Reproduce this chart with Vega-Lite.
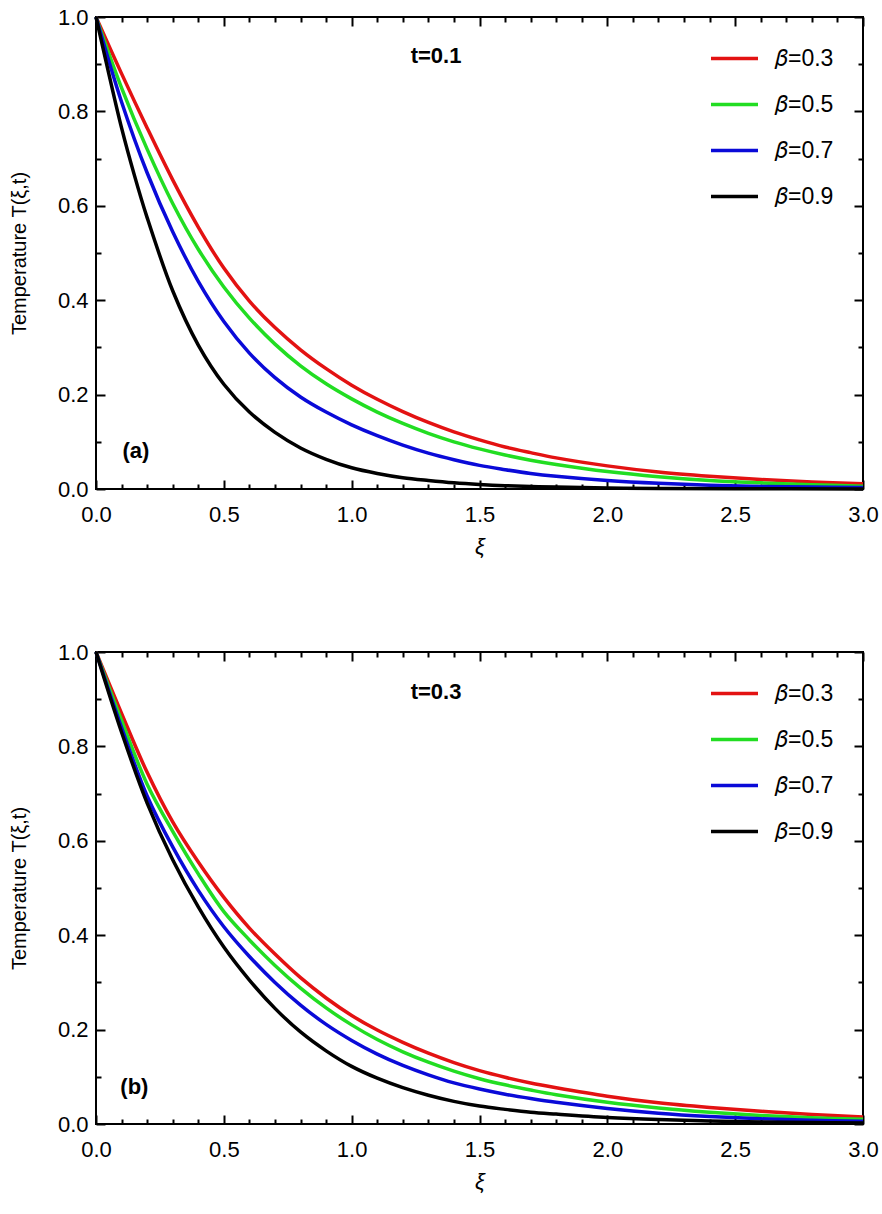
{
  "$schema": "https://vega.github.io/schema/vega-lite/v6.json",
  "padding": {"left": 8, "top": 5, "right": 5, "bottom": 5},
  "autosize": {"type": "pad"},
  "background": "white",
  "config": {
    "font": "Liberation Sans",
    "view": {"stroke": "black", "strokeWidth": 2},
    "concat": {"spacing": 82},
    "axis": {
      "labelFont": "Liberation Sans", "labelFontSize": 22, "labelColor": "black",
      "titleFont": "Liberation Sans", "titleFontWeight": "normal", "titleColor": "black",
      "tickColor": "black", "tickWidth": 2, "grid": false, "domain": false,
      "labelFlush": false, "labelOverlap": false
    },
    "legend": {"labelFont": "Liberation Sans", "labelFontSize": 23, "labelColor": "black"}
  },
  "resolve": {"legend": {"color": "independent"}},
  "datasets": {
    "a": [
      {"beta":"0.3","xi":0,"T":1},{"beta":"0.3","xi":0.1,"T":0.88},{"beta":"0.3","xi":0.2,"T":0.765},{"beta":"0.3","xi":0.3,"T":0.655},{"beta":"0.3","xi":0.4,"T":0.555},{"beta":"0.3","xi":0.5,"T":0.468},{"beta":"0.3","xi":0.6,"T":0.398},{"beta":"0.3","xi":0.7,"T":0.342},{"beta":"0.3","xi":0.8,"T":0.295},{"beta":"0.3","xi":0.9,"T":0.255},{"beta":"0.3","xi":1.0,"T":0.22},{"beta":"0.3","xi":1.1,"T":0.19},{"beta":"0.3","xi":1.2,"T":0.164},{"beta":"0.3","xi":1.3,"T":0.141},{"beta":"0.3","xi":1.4,"T":0.121},{"beta":"0.3","xi":1.5,"T":0.104},{"beta":"0.3","xi":1.6,"T":0.089},{"beta":"0.3","xi":1.7,"T":0.077},{"beta":"0.3","xi":1.8,"T":0.066},{"beta":"0.3","xi":2.0,"T":0.049},{"beta":"0.3","xi":2.2,"T":0.036},{"beta":"0.3","xi":2.4,"T":0.027},{"beta":"0.3","xi":2.6,"T":0.02},{"beta":"0.3","xi":2.8,"T":0.015},{"beta":"0.3","xi":3.0,"T":0.011},
      {"beta":"0.5","xi":0,"T":1},{"beta":"0.5","xi":0.1,"T":0.85},{"beta":"0.5","xi":0.2,"T":0.72},{"beta":"0.5","xi":0.3,"T":0.605},{"beta":"0.5","xi":0.4,"T":0.508},{"beta":"0.5","xi":0.5,"T":0.428},{"beta":"0.5","xi":0.6,"T":0.362},{"beta":"0.5","xi":0.7,"T":0.307},{"beta":"0.5","xi":0.8,"T":0.261},{"beta":"0.5","xi":0.9,"T":0.223},{"beta":"0.5","xi":1.0,"T":0.191},{"beta":"0.5","xi":1.1,"T":0.163},{"beta":"0.5","xi":1.2,"T":0.139},{"beta":"0.5","xi":1.3,"T":0.118},{"beta":"0.5","xi":1.4,"T":0.1},{"beta":"0.5","xi":1.5,"T":0.085},{"beta":"0.5","xi":1.6,"T":0.072},{"beta":"0.5","xi":1.7,"T":0.061},{"beta":"0.5","xi":1.8,"T":0.052},{"beta":"0.5","xi":2.0,"T":0.037},{"beta":"0.5","xi":2.2,"T":0.026},{"beta":"0.5","xi":2.4,"T":0.018},{"beta":"0.5","xi":2.6,"T":0.013},{"beta":"0.5","xi":2.8,"T":0.009},{"beta":"0.5","xi":3.0,"T":0.006},
      {"beta":"0.7","xi":0,"T":1},{"beta":"0.7","xi":0.1,"T":0.82},{"beta":"0.7","xi":0.2,"T":0.67},{"beta":"0.7","xi":0.3,"T":0.545},{"beta":"0.7","xi":0.4,"T":0.44},{"beta":"0.7","xi":0.5,"T":0.355},{"beta":"0.7","xi":0.6,"T":0.288},{"beta":"0.7","xi":0.7,"T":0.236},{"beta":"0.7","xi":0.8,"T":0.195},{"beta":"0.7","xi":0.9,"T":0.163},{"beta":"0.7","xi":1.0,"T":0.136},{"beta":"0.7","xi":1.1,"T":0.113},{"beta":"0.7","xi":1.2,"T":0.093},{"beta":"0.7","xi":1.3,"T":0.076},{"beta":"0.7","xi":1.4,"T":0.062},{"beta":"0.7","xi":1.5,"T":0.05},{"beta":"0.7","xi":1.6,"T":0.041},{"beta":"0.7","xi":1.7,"T":0.033},{"beta":"0.7","xi":1.8,"T":0.027},{"beta":"0.7","xi":2.0,"T":0.018},{"beta":"0.7","xi":2.2,"T":0.012},{"beta":"0.7","xi":2.4,"T":0.008},{"beta":"0.7","xi":2.6,"T":0.0055},{"beta":"0.7","xi":2.8,"T":0.004},{"beta":"0.7","xi":3.0,"T":0.003},
      {"beta":"0.9","xi":0,"T":1},{"beta":"0.9","xi":0.05,"T":0.88},{"beta":"0.9","xi":0.1,"T":0.765},{"beta":"0.9","xi":0.15,"T":0.665},{"beta":"0.9","xi":0.2,"T":0.575},{"beta":"0.9","xi":0.3,"T":0.42},{"beta":"0.9","xi":0.4,"T":0.305},{"beta":"0.9","xi":0.5,"T":0.222},{"beta":"0.9","xi":0.6,"T":0.163},{"beta":"0.9","xi":0.7,"T":0.12},{"beta":"0.9","xi":0.8,"T":0.087},{"beta":"0.9","xi":0.9,"T":0.063},{"beta":"0.9","xi":1.0,"T":0.045},{"beta":"0.9","xi":1.1,"T":0.033},{"beta":"0.9","xi":1.2,"T":0.024},{"beta":"0.9","xi":1.3,"T":0.018},{"beta":"0.9","xi":1.4,"T":0.013},{"beta":"0.9","xi":1.5,"T":0.0095},{"beta":"0.9","xi":1.6,"T":0.007},{"beta":"0.9","xi":1.8,"T":0.004},{"beta":"0.9","xi":2.0,"T":0.0022},{"beta":"0.9","xi":2.2,"T":0.0013},{"beta":"0.9","xi":2.5,"T":0.0006},{"beta":"0.9","xi":3.0,"T":0.0002}
    ],
    "b": [
      {"beta":"0.3","xi":0,"T":1},{"beta":"0.3","xi":0.1,"T":0.87},{"beta":"0.3","xi":0.2,"T":0.745},{"beta":"0.3","xi":0.3,"T":0.64},{"beta":"0.3","xi":0.4,"T":0.555},{"beta":"0.3","xi":0.5,"T":0.48},{"beta":"0.3","xi":0.6,"T":0.415},{"beta":"0.3","xi":0.7,"T":0.36},{"beta":"0.3","xi":0.8,"T":0.31},{"beta":"0.3","xi":0.9,"T":0.267},{"beta":"0.3","xi":1.0,"T":0.23},{"beta":"0.3","xi":1.1,"T":0.199},{"beta":"0.3","xi":1.2,"T":0.173},{"beta":"0.3","xi":1.3,"T":0.15},{"beta":"0.3","xi":1.4,"T":0.13},{"beta":"0.3","xi":1.5,"T":0.113},{"beta":"0.3","xi":1.6,"T":0.099},{"beta":"0.3","xi":1.7,"T":0.087},{"beta":"0.3","xi":1.8,"T":0.077},{"beta":"0.3","xi":2.0,"T":0.059},{"beta":"0.3","xi":2.2,"T":0.045},{"beta":"0.3","xi":2.4,"T":0.035},{"beta":"0.3","xi":2.6,"T":0.027},{"beta":"0.3","xi":2.8,"T":0.02},{"beta":"0.3","xi":3.0,"T":0.015},
      {"beta":"0.5","xi":0,"T":1},{"beta":"0.5","xi":0.1,"T":0.855},{"beta":"0.5","xi":0.2,"T":0.72},{"beta":"0.5","xi":0.3,"T":0.62},{"beta":"0.5","xi":0.4,"T":0.53},{"beta":"0.5","xi":0.5,"T":0.45},{"beta":"0.5","xi":0.6,"T":0.39},{"beta":"0.5","xi":0.7,"T":0.336},{"beta":"0.5","xi":0.8,"T":0.288},{"beta":"0.5","xi":0.9,"T":0.246},{"beta":"0.5","xi":1.0,"T":0.21},{"beta":"0.5","xi":1.1,"T":0.179},{"beta":"0.5","xi":1.2,"T":0.153},{"beta":"0.5","xi":1.3,"T":0.131},{"beta":"0.5","xi":1.4,"T":0.112},{"beta":"0.5","xi":1.5,"T":0.096},{"beta":"0.5","xi":1.6,"T":0.083},{"beta":"0.5","xi":1.7,"T":0.072},{"beta":"0.5","xi":1.8,"T":0.062},{"beta":"0.5","xi":2.0,"T":0.046},{"beta":"0.5","xi":2.2,"T":0.034},{"beta":"0.5","xi":2.4,"T":0.025},{"beta":"0.5","xi":2.6,"T":0.018},{"beta":"0.5","xi":2.8,"T":0.013},{"beta":"0.5","xi":3.0,"T":0.01},
      {"beta":"0.7","xi":0,"T":1},{"beta":"0.7","xi":0.1,"T":0.84},{"beta":"0.7","xi":0.2,"T":0.695},{"beta":"0.7","xi":0.3,"T":0.587},{"beta":"0.7","xi":0.4,"T":0.495},{"beta":"0.7","xi":0.5,"T":0.418},{"beta":"0.7","xi":0.6,"T":0.355},{"beta":"0.7","xi":0.7,"T":0.3},{"beta":"0.7","xi":0.8,"T":0.252},{"beta":"0.7","xi":0.9,"T":0.211},{"beta":"0.7","xi":1.0,"T":0.177},{"beta":"0.7","xi":1.1,"T":0.148},{"beta":"0.7","xi":1.2,"T":0.124},{"beta":"0.7","xi":1.3,"T":0.104},{"beta":"0.7","xi":1.4,"T":0.087},{"beta":"0.7","xi":1.5,"T":0.074},{"beta":"0.7","xi":1.6,"T":0.063},{"beta":"0.7","xi":1.7,"T":0.054},{"beta":"0.7","xi":1.8,"T":0.046},{"beta":"0.7","xi":2.0,"T":0.033},{"beta":"0.7","xi":2.2,"T":0.023},{"beta":"0.7","xi":2.4,"T":0.016},{"beta":"0.7","xi":2.6,"T":0.011},{"beta":"0.7","xi":2.8,"T":0.008},{"beta":"0.7","xi":3.0,"T":0.006},
      {"beta":"0.9","xi":0,"T":1},{"beta":"0.9","xi":0.1,"T":0.83},{"beta":"0.9","xi":0.2,"T":0.68},{"beta":"0.9","xi":0.3,"T":0.56},{"beta":"0.9","xi":0.4,"T":0.46},{"beta":"0.9","xi":0.5,"T":0.375},{"beta":"0.9","xi":0.6,"T":0.305},{"beta":"0.9","xi":0.7,"T":0.245},{"beta":"0.9","xi":0.8,"T":0.195},{"beta":"0.9","xi":0.9,"T":0.155},{"beta":"0.9","xi":1.0,"T":0.122},{"beta":"0.9","xi":1.1,"T":0.097},{"beta":"0.9","xi":1.2,"T":0.077},{"beta":"0.9","xi":1.3,"T":0.061},{"beta":"0.9","xi":1.4,"T":0.048},{"beta":"0.9","xi":1.5,"T":0.038},{"beta":"0.9","xi":1.6,"T":0.031},{"beta":"0.9","xi":1.7,"T":0.025},{"beta":"0.9","xi":1.8,"T":0.021},{"beta":"0.9","xi":2.0,"T":0.014},{"beta":"0.9","xi":2.2,"T":0.0095},{"beta":"0.9","xi":2.4,"T":0.0065},{"beta":"0.9","xi":2.6,"T":0.0045},{"beta":"0.9","xi":2.8,"T":0.003},{"beta":"0.9","xi":3.0,"T":0.002}
    ]
  },
  "vconcat": [
    {
      "width": 767, "height": 472,
      "data": {"name": "a"},
      "resolve": {"axis": {"x": "independent", "y": "independent"}},
      "layer": [
        {
          "mark": {"type": "line", "strokeWidth": 3.5, "interpolate": "catmull-rom"},
          "encoding": {
            "x": {"field": "xi", "type": "quantitative", "scale": {"domain": [0, 3], "nice": false, "zero": false},
              "axis": {"orient": "bottom", "offset": -9, "values": [0, 0.5, 1, 1.5, 2, 2.5, 3], "format": ".1f", "tickSize": 9, "labelPadding": 15, "title": "ξ", "titleFontStyle": "italic", "titleFontSize": 22, "titlePadding": 11}},
            "y": {"field": "T", "type": "quantitative", "scale": {"domain": [0, 1], "nice": false},
              "axis": {"orient": "left", "offset": -9, "values": [0, 0.2, 0.4, 0.6, 0.8, 1], "format": ".1f", "tickSize": 9, "labelPadding": 8, "title": "Temperature T(ξ,t)", "titleFontSize": 20, "titlePadding": 28}},
            "color": {"field": "beta", "type": "nominal",
              "scale": {"domain": ["0.3", "0.5", "0.7", "0.9"], "range": ["#e31212", "#22dd22", "#0a0ad8", "#000000"]},
              "legend": {"orient": "none", "legendX": 613, "legendY": 16, "title": null, "symbolType": "stroke", "symbolSize": 2209, "symbolStrokeWidth": 3.5, "labelOffset": 15, "rowPadding": 8, "padding": 0, "labelExpr": "'𝛽=' + datum.label"}}
          }
        },
        {
          "mark": {"type": "point", "opacity": 0},
          "encoding": {
            "x": {"field": "xi", "type": "quantitative", "axis": {"orient": "top", "offset": -9, "values": [0, 0.5, 1, 1.5, 2, 2.5, 3], "tickSize": 9, "labels": false, "title": null}},
            "y": {"field": "T", "type": "quantitative", "axis": {"orient": "right", "offset": -9, "values": [0, 0.2, 0.4, 0.6, 0.8, 1], "tickSize": 9, "labels": false, "title": null}}
          }
        },
        {
          "mark": {"type": "point", "opacity": 0},
          "encoding": {
            "x": {"field": "xi", "type": "quantitative", "axis": {"orient": "bottom", "offset": -5, "values": [0.1,0.2,0.3,0.4,0.6,0.7,0.8,0.9,1.1,1.2,1.3,1.4,1.6,1.7,1.8,1.9,2.1,2.2,2.3,2.4,2.6,2.7,2.8,2.9], "tickSize": 5, "labels": false, "title": null}},
            "y": {"field": "T", "type": "quantitative", "axis": {"orient": "left", "offset": -5, "values": [0.1, 0.3, 0.5, 0.7, 0.9], "tickSize": 5, "labels": false, "title": null}}
          }
        },
        {
          "mark": {"type": "point", "opacity": 0},
          "encoding": {
            "x": {"field": "xi", "type": "quantitative", "axis": {"orient": "top", "offset": -5, "values": [0.1,0.2,0.3,0.4,0.6,0.7,0.8,0.9,1.1,1.2,1.3,1.4,1.6,1.7,1.8,1.9,2.1,2.2,2.3,2.4,2.6,2.7,2.8,2.9], "tickSize": 5, "labels": false, "title": null}},
            "y": {"field": "T", "type": "quantitative", "axis": {"orient": "right", "offset": -5, "values": [0.1, 0.3, 0.5, 0.7, 0.9], "tickSize": 5, "labels": false, "title": null}}
          }
        },
        {
          "data": {"values": [{"label": "t=0.1"}]},
          "mark": {"type": "text", "fontSize": 22, "fontWeight": "bold", "font": "Liberation Sans", "color": "black"},
          "encoding": {
            "x": {"datum": 1.33, "type": "quantitative", "axis": null},
            "y": {"datum": 0.917, "type": "quantitative", "axis": null},
            "text": {"field": "label"}
          }
        },
        {
          "data": {"values": [{"label": "(a)"}]},
          "mark": {"type": "text", "fontSize": 22, "fontWeight": "bold", "font": "Liberation Sans", "color": "black"},
          "encoding": {
            "x": {"datum": 0.156, "type": "quantitative", "axis": null},
            "y": {"datum": 0.08, "type": "quantitative", "axis": null},
            "text": {"field": "label"}
          }
        }
      ]
    },
    {
      "width": 767, "height": 472,
      "data": {"name": "b"},
      "resolve": {"axis": {"x": "independent", "y": "independent"}},
      "layer": [
        {
          "mark": {"type": "line", "strokeWidth": 3.5, "interpolate": "catmull-rom"},
          "encoding": {
            "x": {"field": "xi", "type": "quantitative", "scale": {"domain": [0, 3], "nice": false, "zero": false},
              "axis": {"orient": "bottom", "offset": -9, "values": [0, 0.5, 1, 1.5, 2, 2.5, 3], "format": ".1f", "tickSize": 9, "labelPadding": 15, "title": "ξ", "titleFontStyle": "italic", "titleFontSize": 22, "titlePadding": 11}},
            "y": {"field": "T", "type": "quantitative", "scale": {"domain": [0, 1], "nice": false},
              "axis": {"orient": "left", "offset": -9, "values": [0, 0.2, 0.4, 0.6, 0.8, 1], "format": ".1f", "tickSize": 9, "labelPadding": 8, "title": "Temperature T(ξ,t)", "titleFontSize": 20, "titlePadding": 28}},
            "color": {"field": "beta", "type": "nominal",
              "scale": {"domain": ["0.3", "0.5", "0.7", "0.9"], "range": ["#e31212", "#22dd22", "#0a0ad8", "#000000"]},
              "legend": {"orient": "none", "legendX": 613, "legendY": 16, "title": null, "symbolType": "stroke", "symbolSize": 2209, "symbolStrokeWidth": 3.5, "labelOffset": 15, "rowPadding": 8, "padding": 0, "labelExpr": "'𝛽=' + datum.label"}}
          }
        },
        {
          "mark": {"type": "point", "opacity": 0},
          "encoding": {
            "x": {"field": "xi", "type": "quantitative", "axis": {"orient": "top", "offset": -9, "values": [0, 0.5, 1, 1.5, 2, 2.5, 3], "tickSize": 9, "labels": false, "title": null}},
            "y": {"field": "T", "type": "quantitative", "axis": {"orient": "right", "offset": -9, "values": [0, 0.2, 0.4, 0.6, 0.8, 1], "tickSize": 9, "labels": false, "title": null}}
          }
        },
        {
          "mark": {"type": "point", "opacity": 0},
          "encoding": {
            "x": {"field": "xi", "type": "quantitative", "axis": {"orient": "bottom", "offset": -5, "values": [0.1,0.2,0.3,0.4,0.6,0.7,0.8,0.9,1.1,1.2,1.3,1.4,1.6,1.7,1.8,1.9,2.1,2.2,2.3,2.4,2.6,2.7,2.8,2.9], "tickSize": 5, "labels": false, "title": null}},
            "y": {"field": "T", "type": "quantitative", "axis": {"orient": "left", "offset": -5, "values": [0.1, 0.3, 0.5, 0.7, 0.9], "tickSize": 5, "labels": false, "title": null}}
          }
        },
        {
          "mark": {"type": "point", "opacity": 0},
          "encoding": {
            "x": {"field": "xi", "type": "quantitative", "axis": {"orient": "top", "offset": -5, "values": [0.1,0.2,0.3,0.4,0.6,0.7,0.8,0.9,1.1,1.2,1.3,1.4,1.6,1.7,1.8,1.9,2.1,2.2,2.3,2.4,2.6,2.7,2.8,2.9], "tickSize": 5, "labels": false, "title": null}},
            "y": {"field": "T", "type": "quantitative", "axis": {"orient": "right", "offset": -5, "values": [0.1, 0.3, 0.5, 0.7, 0.9], "tickSize": 5, "labels": false, "title": null}}
          }
        },
        {
          "data": {"values": [{"label": "t=0.3"}]},
          "mark": {"type": "text", "fontSize": 22, "fontWeight": "bold", "font": "Liberation Sans", "color": "black"},
          "encoding": {
            "x": {"datum": 1.33, "type": "quantitative", "axis": null},
            "y": {"datum": 0.915, "type": "quantitative", "axis": null},
            "text": {"field": "label"}
          }
        },
        {
          "data": {"values": [{"label": "(b)"}]},
          "mark": {"type": "text", "fontSize": 22, "fontWeight": "bold", "font": "Liberation Sans", "color": "black"},
          "encoding": {
            "x": {"datum": 0.15, "type": "quantitative", "axis": null},
            "y": {"datum": 0.078, "type": "quantitative", "axis": null},
            "text": {"field": "label"}
          }
        }
      ]
    }
  ]
}
